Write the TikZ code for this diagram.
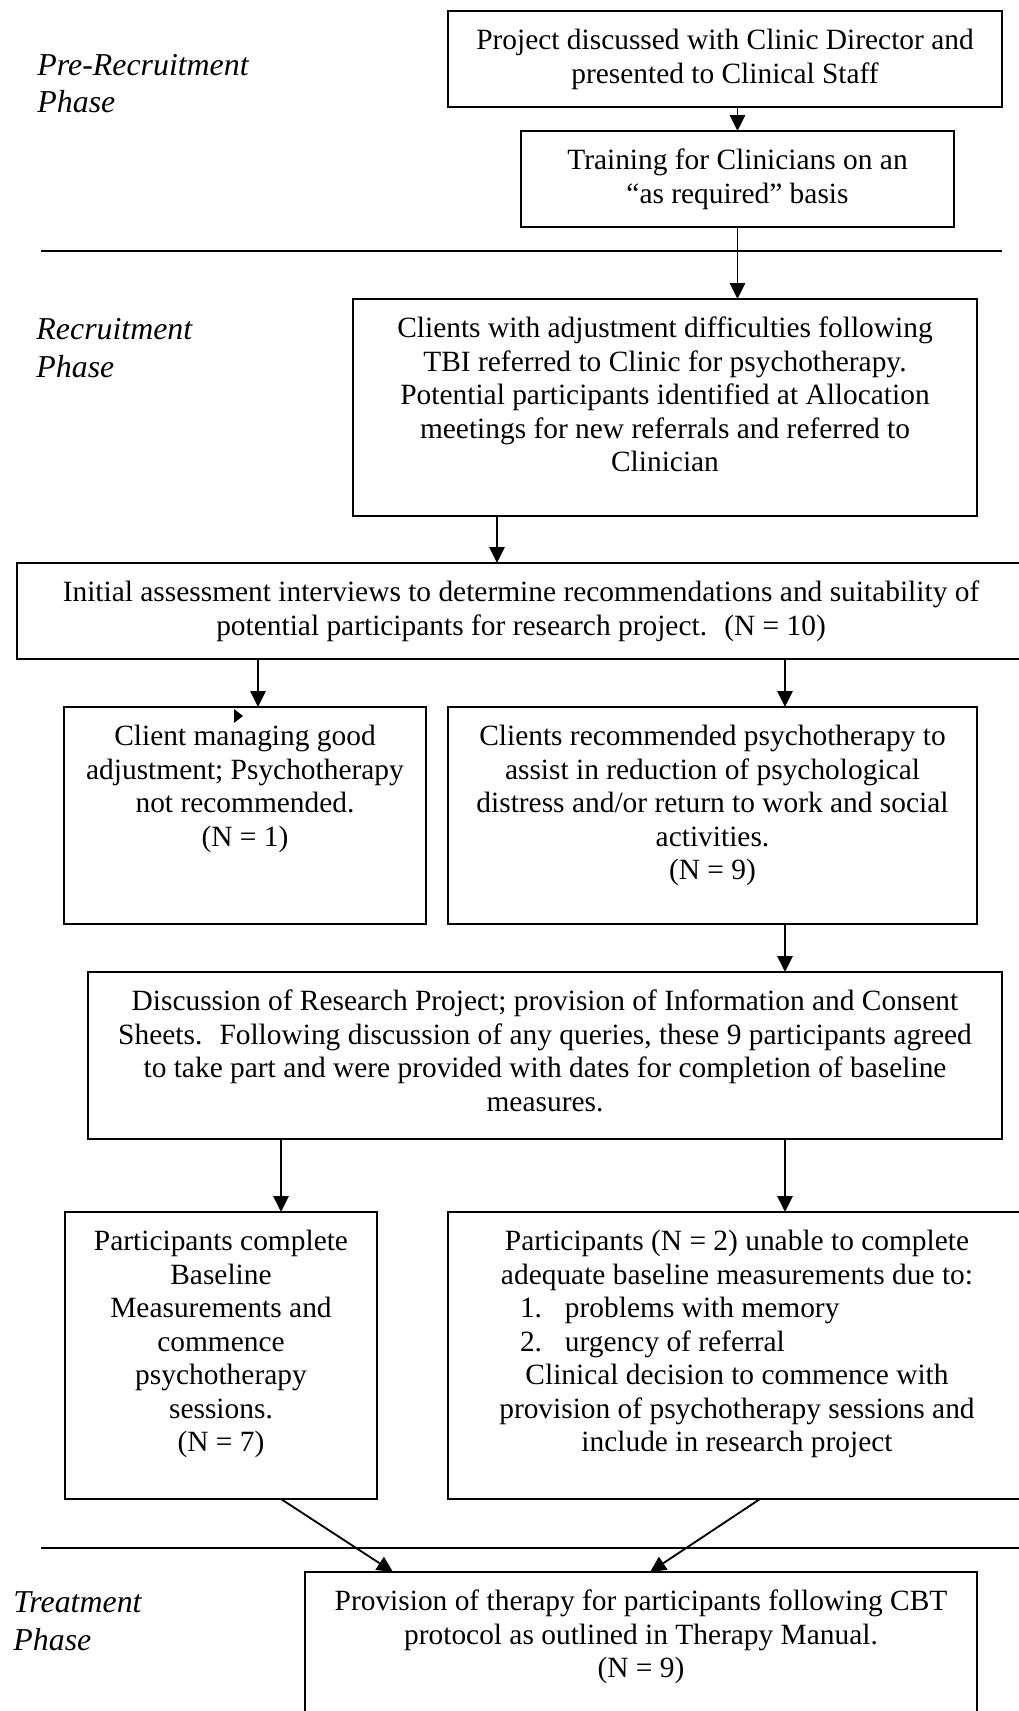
\documentclass[tikz,border=0pt]{standalone}
\usepackage{fontspec}
\setmainfont{Liberation Serif}
\usetikzlibrary{arrows.meta}
\newdimen\pxu \pxu=0.408pt
% box text: width, height (px), then the lines, set from the top
\newcommand{\boxtxt}[3]{\parbox[c][#2\pxu][t]{#1\pxu}{\centering\vspace*{15\pxu}\strut#3}}
\tikzset{
  box/.style={draw, line width=0.75pt, inner sep=0pt, outer sep=0pt, font=\fontsize{12}{13.7}\selectfont},
  phase/.style={inner sep=0pt, align=left, font=\fontsize{13}{15.3}\selectfont\itshape},
  arr/.style={-{Triangle[length=6.5pt,width=6.2pt]}, line width=0.75pt},
  rule/.style={line width=0.75pt}
}
\begin{document}
\begin{tikzpicture}[x=\pxu, y=-\pxu]
  \useasboundingbox (0,0) rectangle (1019,1711);
  \clip (0,0) rectangle (1019,1711);
  % phases (base = last line)
  \node[phase, anchor=base west] (prephase) at (37,112.5) {Pre-Recruitment\\Phase};
  \node[phase, anchor=base west] (recphase) at (36,377) {Recruitment\\Phase};
  \node[phase, anchor=base west] (trephase) at (13,1650) {Treatment\\Phase};
  \draw[rule] (41,251) -- (1002,251);
  \draw[rule] (41,1548) -- (1030,1548);
  % boxes
  \node[box] (project) at (725,59) {\boxtxt{554}{96}{Project discussed with Clinic Director and\\presented to Clinical Staff}};
  \node[box] (training) at (737.5,179) {\boxtxt{433}{96}{Training for Clinicians on an\\“as required” basis}};
  \node[box] (clients) at (665,407.5) {\boxtxt{624}{217}{Clients with adjustment difficulties following\\TBI referred to Clinic for psychotherapy.\\Potential participants identified at Allocation\\meetings for new referrals and referred to\\Clinician}};
  \node[box] (initial) at (521,611) {\boxtxt{1008}{96}{Initial assessment interviews to determine recommendations and suitability of\\potential participants for research project.~ (N = 10)}};
  \node[box] (notrec) at (245,815.5) {\boxtxt{362}{217}{Client managing good\\adjustment; Psychotherapy\\not recommended.\\(N = 1)}};
  \node[box] (rec) at (712.5,815.5) {\boxtxt{529}{217}{Clients recommended psychotherapy to\\assist in reduction of psychological\\distress and/or return to work and social\\activities.\\(N = 9)}};
  \node[box] (consent) at (545,1055.5) {\boxtxt{914}{167}{Discussion of Research Project; provision of Information and Consent\\Sheets.~ Following discussion of any queries, these 9 participants agreed\\to take part and were provided with dates for completion of baseline\\measures.}};
  \node[box] (baseline) at (221,1355.5) {\boxtxt{312}{287}{Participants complete\\Baseline\\Measurements and\\commence\\psychotherapy\\sessions.\\(N = 7)}};
  \node[box] (unable) at (737,1355.5) {\boxtxt{578}{287}{Participants (N = 2) unable to complete\\adequate baseline measurements due to:\\
    \makebox[578\pxu][l]{\hspace*{72\pxu}\makebox[45\pxu][l]{1.}problems with memory}\\
    \makebox[578\pxu][l]{\hspace*{72\pxu}\makebox[45\pxu][l]{2.}urgency of referral}\\
    Clinical decision to commence with\\provision of psychotherapy sessions and\\include in research project}};
  \node[box] (therapy) at (641,1648.5) {\boxtxt{672}{153}{Provision of therapy for participants following CBT\\protocol as outlined in Therapy Manual.\\(N = 9)}};
  \fill (234,709) -- (243,716) -- (234,723) -- cycle;
  % arrows
  \coordinate (colA) at (497,0);
  \coordinate (colB) at (258,0);
  \coordinate (colC) at (785,0);
  \coordinate (colD) at (281,0);
  \draw[arr] (project.south -| training.north) -- (training.north);
  \draw[arr] (training.south) -- (training.south |- clients.north);
  \draw[arr] (colA |- clients.south) -- (colA |- initial.north);
  \draw[arr] (colB |- initial.south) -- (colB |- notrec.north);
  \draw[arr] (colC |- initial.south) -- (colC |- rec.north);
  \draw[arr] (colC |- rec.south) -- (colC |- consent.north);
  \draw[arr] (colD |- consent.south) -- (colD |- baseline.north);
  \draw[arr] (colC |- consent.south) -- (colC |- unable.north);
  \draw[arr] (colD |- baseline.south) -- (393,0 |- therapy.north);
  \draw[arr] (760,0 |- unable.south) -- (650,0 |- therapy.north);
\end{tikzpicture}
\end{document}
